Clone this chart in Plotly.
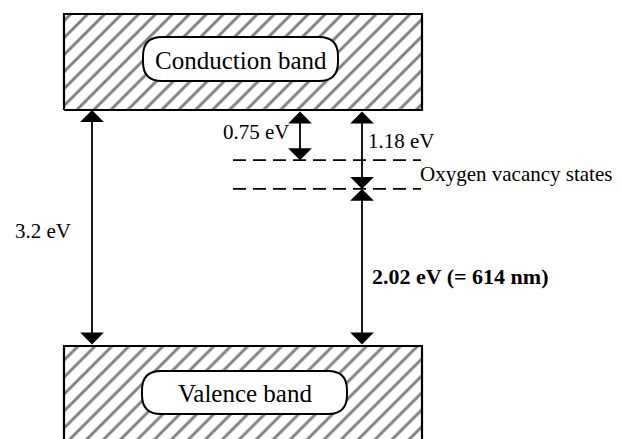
import plotly.graph_objects as go

# ---------------- data (energies in eV, measured from valence-band top) ----------------
band_labels = ["Conduction band", "Valence band"]
band_gap = 3.2                       # eV
trap_depths = [0.75, 1.18]           # eV below conduction band (labels)
trap_levels_drawn = [2.52, 2.13]     # schematic drawn positions of the dashed levels (eV)
emission_energy = 2.02               # eV
emission_wavelength = 614            # nm
trap_label = "Oxygen vacancy states"

arrow_x = [92, 300, 362, 362]        # horizontal position of each double arrow
arrow_from = [0.0, band_gap, band_gap, 0.0]
arrow_to = [band_gap, trap_levels_drawn[0], trap_levels_drawn[1], trap_levels_drawn[1]]
arrow_text = [f"{band_gap} eV", f"{trap_depths[0]} eV", f"{trap_depths[1]} eV",
              f"<b>{emission_energy} eV (= {emission_wavelength} nm)</b>"]

# ---------------- geometry helpers ----------------
PX_PER_EV = 73.75
VB_TOP_PX = 346.0
def E(py):
    return (VB_TOP_PX - py) / PX_PER_EV

FONT = "Liberation Serif, Times New Roman, serif"
W, H = 621, 439
x_left, x_right = 64, 422
cb_top = E(14)
vb_bottom = E(470)

fig = go.Figure()

hatch = dict(shape="/", size=12, solidity=0.24, fgcolor="black", bgcolor="white")
for (y0, y1) in [(band_gap, cb_top), (vb_bottom, 0.0)]:
    fig.add_trace(go.Scatter(
        x=[x_left, x_right, x_right, x_left, x_left],
        y=[y0, y0, y1, y1, y0],
        mode="lines", fill="toself", fillpattern=hatch, fillcolor="white",
        line=dict(color="black", width=2.2), hoverinfo="skip", showlegend=False))

# dashed trap levels
for lvl in trap_levels_drawn:
    fig.add_trace(go.Scatter(
        x=[233, 421], y=[lvl, lvl], mode="lines",
        line=dict(color="black", width=1.8, dash="13px,7px"),
        hoverinfo="skip", showlegend=False))

# rounded label boxes
def rounded_box(x0, x1, py0, py1, r=19):
    ry = r / PX_PER_EV
    yt, yb = E(py0), E(py1)
    return (f"M {x0 + r},{yt} L {x1 - r},{yt} Q {x1},{yt} {x1},{yt - ry} "
            f"L {x1},{yb + ry} Q {x1},{yb} {x1 - r},{yb} "
            f"L {x0 + r},{yb} Q {x0},{yb} {x0},{yb + ry} "
            f"L {x0},{yt - ry} Q {x0},{yt} {x0 + r},{yt} Z")

boxes = [(143, 338, 37, 81), (142, 347, 371, 414)]
for (x0, x1, py0, py1), lab in zip(boxes, band_labels):
    fig.add_shape(type="path", path=rounded_box(x0, x1, py0, py1), xref="x", yref="y",
                  fillcolor="white", line=dict(color="black", width=2), layer="above")
    fig.add_annotation(x=(x0 + x1) / 2, y=E((py0 + py1) / 2 + 1), text=lab, showarrow=False,
                       font=dict(family=FONT, size=25, color="black"))

# double-headed arrows
for x, y0, y1 in zip(arrow_x, arrow_from, arrow_to):
    fig.add_annotation(x=x, y=y1, ax=x, ay=y0, axref="x", ayref="y", xref="x", yref="y",
                       text="", showarrow=True, arrowside="end+start",
                       arrowhead=1, startarrowhead=1, arrowsize=2.2, startarrowsize=2.2,
                       arrowwidth=1.8, arrowcolor="black", standoff=0, startstandoff=0)

# arrow labels
label_pos = [(43, 231), (256, 132), (401, 141), (460, 276)]
label_size = [21, 21, 21, 22]
for (px, py), txt, sz in zip(label_pos, arrow_text, label_size):
    fig.add_annotation(x=px, y=E(py), text=txt, showarrow=False,
                       font=dict(family=FONT, size=sz, color="black"))

fig.add_annotation(x=516, y=E(174), text=trap_label, showarrow=False,
                   font=dict(family=FONT, size=21, color="black"))

fig.update_layout(
    width=W, height=H, margin=dict(l=0, r=0, t=0, b=0),
    paper_bgcolor="white", plot_bgcolor="white", showlegend=False,
    xaxis=dict(range=[0, W], visible=False, fixedrange=True),
    yaxis=dict(range=[E(H), E(0)], visible=False, fixedrange=True),
)

fig.write_html("out.html", post_script="document.body.style.margin='0px';",
               config={"displayModeBar": False})
